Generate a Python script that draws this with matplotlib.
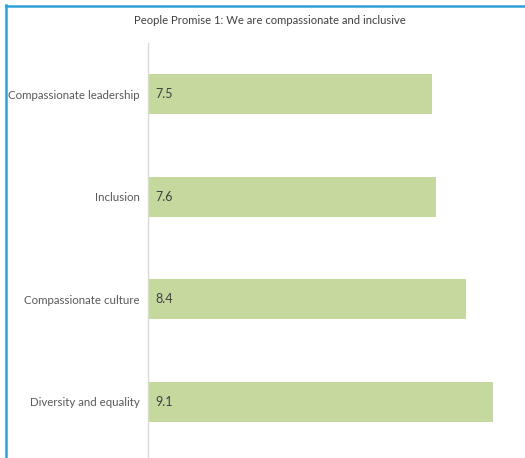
import matplotlib
matplotlib.use("Agg")
import matplotlib.pyplot as plt
from matplotlib.lines import Line2D

categories = ["Compassionate leadership", "Inclusion", "Compassionate culture", "Diversity and equality"]
values = [7.5, 7.6, 8.4, 9.1]
title = "People Promise 1: We are compassionate and inclusive"

FONT = ["Lato", "DejaVu Sans"]

W, H = 525, 458
fig = plt.figure(figsize=(W / 100, H / 100), dpi=100)
fig.patch.set_facecolor("white")

# plot area in pixel terms
x0, x1 = 148, 520
y_top, y_bot = 43, 458
ax = fig.add_axes([x0 / W, 1 - y_bot / H, (x1 - x0) / W, (y_bot - y_top) / H])

px_per_unit = 37.9
band = 102.5
ax.set_xlim(0, (x1 - x0) / px_per_unit)
ax.set_ylim(-0.5 + (y_bot - y_top) / band, -0.5)

pos = list(range(len(categories)))
ax.barh(pos, values, height=0.39, color="#C5D89E", edgecolor="none")

for p, v in zip(pos, values):
    ax.text(0.2, p, f"{v:.1f}", va="center", ha="left", fontsize=9,
            color="#404040", family=FONT)

ax.set_yticks(pos)
ax.set_yticklabels(categories, fontsize=8.25, color="#595959", family=FONT)
ax.tick_params(axis="y", length=0, pad=5.8)
ax.set_xticks([])
for s in ["top", "right", "bottom"]:
    ax.spines[s].set_visible(False)
ax.spines["left"].set_color("#D9D9D9")
ax.spines["left"].set_linewidth(1)

fig.text(270 / W, 1 - 20 / H, title, ha="center", va="center", fontsize=8.1,
         color="#404040", family=FONT)

# frame lines along the top and left edges
border = "#2FA0D8"
fig.add_artist(Line2D([5.5 / W, 5.5 / W], [0, 1 - 5 / H], transform=fig.transFigure,
                      color=border, lw=1.8))
fig.add_artist(Line2D([5.5 / W, 1], [1 - 5.5 / H, 1 - 5.5 / H], transform=fig.transFigure,
                      color=border, lw=1.8))

fig.savefig("out.png", dpi=100)
